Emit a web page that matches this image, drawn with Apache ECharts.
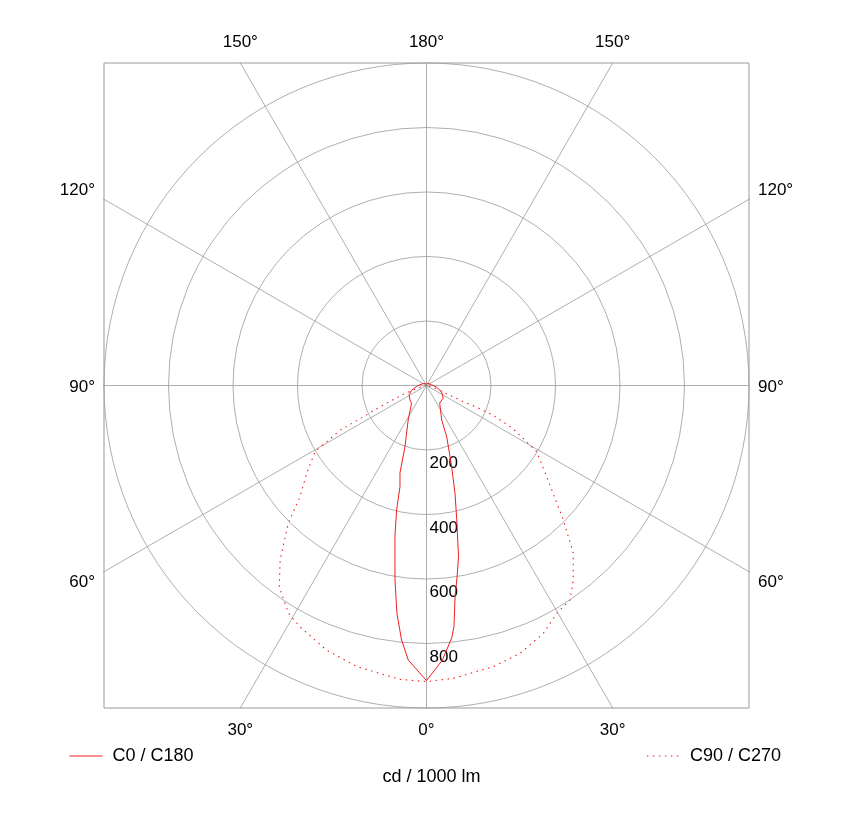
<!DOCTYPE html>
<html>
<head>
<meta charset="utf-8">
<script src="https://cdn.jsdelivr.net/npm/echarts@6/dist/echarts.min.js"></script>
<style>html,body{margin:0;padding:0;background:#fff}#c{width:846px;height:820px}</style>
</head>
<body>
<div id="c"></div>
<script>
// ---------------- data ----------------
const seriesNames = ['C0 / C180', 'C90 / C270'];
const unitLabel = 'cd / 1000 lm';
const radiusMax = 1000;
const radiusStep = 200;
const spokeAngles = [0, 30, 60, 90, 120, 150, 180, 210, 240, 270, 300, 330];
const angleLabelAngles = [0, 30, 60, 90, 120, 150, 180, 210, 240, 270, 300, 330];

// C180 half (drawn on the left), ordered from 180° (top) down to 0° (bottom)
const c180Angles = [180, 150, 120, 96, 84, 72, 62, 49, 40, 28, 19.4, 16.9, 14.7, 13.5, 11.8, 9.2, 7.4, 5.6, 3.8, 0];
const c180Values = [5, 8, 12, 21, 31, 49, 61, 68, 72, 121, 201, 283, 324, 397, 479, 611, 712, 793, 853, 915];
// C0 half (drawn on the right), ordered from 0° (bottom) up to 180° (top)
const c0Angles = [0, 3.3, 5.7, 6.5, 7.7, 9.1, 10.6, 12.7, 14.8, 17.2, 21.5, 23.8, 37, 53, 68, 81, 98, 120, 150, 180];
const c0Values = [915, 853, 787, 753, 661, 600, 540, 427, 346, 264, 171, 117, 68, 65, 50, 31, 16, 12, 8, 5];

// C270 half (left), from 90° down to 0°
const c270Angles = [90, 80, 74, 69, 65.7, 63.7, 62.7, 59.3, 53.8, 48.7, 45.1, 40, 36.2, 31.2, 27.7, 20.7, 13.9, 5.2, 0];
const c270Values = [0, 10, 30, 81, 145, 217, 300, 402, 460, 522, 605, 706, 773, 826, 845, 877, 898, 915, 918];
// C90 half (right), from 0° up to 90°
const c90Angles = [0, 5.2, 13.4, 19.2, 25.2, 29.7, 33.8, 37, 41.2, 45.5, 52.8, 59, 63.6, 66, 66.6, 66.3, 68, 75, 90];
const c90Values = [918, 912, 896, 880, 850, 814, 800, 756, 691, 595, 468, 399, 298, 225, 167, 123, 65, 20, 0];

// ---------------- layout ----------------
const CX = 426.5, CY = 385.5, R = 322.5;
const FONT = "'Liberation Sans', Arial, Helvetica, sans-serif";
const GRID_COLOR = '#9a9a9a';
const RED = '#f01e1e';

function halves(leftA, leftV, rightA, rightV) {
  const out = [];
  for (let i = 0; i < leftA.length; i++) out.push([leftV[i], leftA[i]]);
  for (let i = 0; i < rightA.length; i++) out.push([rightV[i], 360 - rightA[i]]);
  return out;
}

const spokeSeries = spokeAngles.map(a => {
  const rad = a * Math.PI / 180;
  const L = 3 * radiusMax;
  return {
    type: 'line', xAxisIndex: 0, yAxisIndex: 0, silent: true, symbol: 'none',
    z: 1, clip: true,
    lineStyle: { color: GRID_COLOR, width: 0.8 },
    data: [[0, 0], [-Math.sin(rad) * L, -Math.cos(rad) * L]]
  };
});

const angleLabelGraphics = angleLabelAngles.map(a => {
  const rad = a * Math.PI / 180;
  const dx = -Math.sin(rad), dy = Math.cos(rad);
  const t = R / Math.max(Math.abs(dx), Math.abs(dy));
  const px = CX + t * dx, py = CY + t * dy;
  const deg = a <= 180 ? a : 360 - a;
  let x = px, y = py, align = 'center';
  if (Math.abs(dy) >= Math.abs(dx) - 1e-9) {
    y = dy > 0 ? py + 22 : py - 21;
  } else {
    if (dx < 0) { align = 'right'; x = px - 9; } else { align = 'left'; x = px + 9; }
    y = py + (Math.abs(dy) < 1e-6 ? 2 : Math.sign(dy) * 9 + (dy > 0 ? 2 : 0));
  }
  return {
    type: 'text', x: x, y: y, silent: true,
    style: { text: deg + '°', fontSize: 17, fontFamily: FONT, fill: '#000', align: align, verticalAlign: 'middle' }
  };
});

const legendCommon = {
  itemWidth: 33, itemHeight: 12,
  itemStyle: { opacity: 0, borderWidth: 0 },
  lineStyle: { width: 1 },
  textStyle: { fontSize: 18, color: '#000', fontFamily: FONT, padding: [0, 0, 0, 5] }
};

const chart = echarts.init(document.getElementById('c'), null, { renderer: 'canvas' });
chart.setOption({
  backgroundColor: '#fff',
  animation: false,
  title: {
    text: unitLabel, left: CX, textAlign: 'center', top: 763,
    textStyle: { fontSize: 18, fontWeight: 'normal', color: '#000', fontFamily: FONT }
  },
  legend: [
    Object.assign({ data: [seriesNames[0]], left: 64, top: 742 }, legendCommon),
    Object.assign({ data: [seriesNames[1]], right: 60, top: 742 }, legendCommon)
  ],
  grid: {
    left: CX - R, top: CY - R, width: 2 * R, height: 2 * R,
    show: true, borderColor: GRID_COLOR, borderWidth: 1, backgroundColor: 'transparent'
  },
  xAxis: { type: 'value', min: -radiusMax, max: radiusMax, show: false },
  yAxis: { type: 'value', min: -radiusMax, max: radiusMax, show: false },
  polar: { center: [CX, CY], radius: R },
  angleAxis: {
    type: 'value', min: 0, max: 360, startAngle: 270, clockwise: true,
    axisLine: { show: false }, axisTick: { show: false }, axisLabel: { show: false }, splitLine: { show: false }
  },
  radiusAxis: {
    type: 'value', min: 0, max: radiusMax, interval: radiusStep,
    axisLine: { show: false }, axisTick: { show: false },
    axisLabel: {
      formatter: v => (v > 0 && v < radiusMax) ? String(v) : '',
      color: '#000', fontSize: 17, fontFamily: FONT,
      align: 'left', verticalAlign: 'top', margin: 3, padding: [5, 0, 0, 0]
    },
    splitLine: { show: true, lineStyle: { color: GRID_COLOR, width: 0.8 } }
  },
  graphic: angleLabelGraphics,
  series: spokeSeries.concat([
    {
      name: seriesNames[0], type: 'line', coordinateSystem: 'polar', symbol: 'none', z: 5,
      lineStyle: { color: RED, width: 1 }, itemStyle: { color: RED },
      data: halves(c180Angles, c180Values, c0Angles, c0Values)
    },
    {
      name: seriesNames[1], type: 'line', coordinateSystem: 'polar', symbol: 'none', z: 5,
      lineStyle: { color: RED, width: 1.1, type: [1.5, 4.5] }, itemStyle: { color: RED },
      data: halves(c270Angles, c270Values, c90Angles, c90Values)
    }
  ])
});
</script>
</body>
</html>
